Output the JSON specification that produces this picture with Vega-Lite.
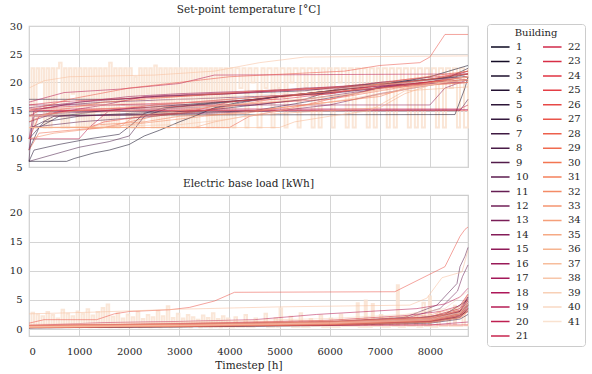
{
"$schema": "https://vega.github.io/schema/vega-lite/v6.json",
"padding": {"left": 8, "top": 3, "right": 2, "bottom": 2},
"background": "white",
"config": {
  "font": "DejaVu Serif",
  "view": {"stroke": "#cccccc", "strokeWidth": 1.2},
  "axis": {"grid": true, "gridColor": "#d4d4d4", "gridWidth": 1, "domain": false, "ticks": false, "labelFont": "DejaVu Serif", "labelFontSize": 10, "labelColor": "#262626", "labelPadding": 7, "titleFont": "DejaVu Serif", "titleFontSize": 10.5, "titleFontWeight": "normal", "titleColor": "#262626"},
  "title": {"font": "DejaVu Serif", "fontSize": 10.5, "fontWeight": "normal", "color": "#262626", "offset": 6},
  "legend": {"labelFont": "DejaVu Serif", "titleFont": "DejaVu Serif", "labelFontSize": 10, "titleFontSize": 10, "titleFontWeight": "normal", "labelColor": "#262626", "titleColor": "#262626", "symbolLimit": 50},
  "concat": {"spacing": 4}
},
"resolve": {"scale": {"y": "independent"}},
"data": {"values": [
{"p":"T","b":41,"t":0,"v":12},{"p":"T","b":41,"t":50,"v":22.5},{"p":"T","b":41,"t":100,"v":12},{"p":"T","b":41,"t":150,"v":22.5},{"p":"T","b":41,"t":200,"v":20},{"p":"T","b":41,"t":250,"v":22.5},{"p":"T","b":41,"t":300,"v":12},{"p":"T","b":41,"t":350,"v":22.5},{"p":"T","b":41,"t":400,"v":12},{"p":"T","b":41,"t":450,"v":22.5},{"p":"T","b":41,"t":500,"v":14},{"p":"T","b":41,"t":550,"v":22.5},{"p":"T","b":41,"t":600,"v":23.5},{"p":"T","b":41,"t":650,"v":12},{"p":"T","b":41,"t":700,"v":22.5},{"p":"T","b":41,"t":750,"v":12},{"p":"T","b":41,"t":800,"v":22.5},{"p":"T","b":41,"t":850,"v":18},{"p":"T","b":41,"t":900,"v":22.5},{"p":"T","b":41,"t":950,"v":12},{"p":"T","b":41,"t":1000,"v":22.5},{"p":"T","b":41,"t":1050,"v":12},{"p":"T","b":41,"t":1100,"v":22.5},{"p":"T","b":41,"t":1150,"v":12},{"p":"T","b":41,"t":1200,"v":22.5},{"p":"T","b":41,"t":1250,"v":12},{"p":"T","b":41,"t":1300,"v":22.5},{"p":"T","b":41,"t":1350,"v":15},{"p":"T","b":41,"t":1400,"v":22.5},{"p":"T","b":41,"t":1450,"v":12},{"p":"T","b":41,"t":1500,"v":22.5},{"p":"T","b":41,"t":1550,"v":12},{"p":"T","b":41,"t":1600,"v":23.5},{"p":"T","b":41,"t":1650,"v":12},{"p":"T","b":41,"t":1700,"v":22.5},{"p":"T","b":41,"t":1750,"v":12},{"p":"T","b":41,"t":1800,"v":22.5},{"p":"T","b":41,"t":1850,"v":16},{"p":"T","b":41,"t":1900,"v":22.5},{"p":"T","b":41,"t":1950,"v":12},{"p":"T","b":41,"t":2000,"v":22.5},{"p":"T","b":41,"t":2050,"v":12},{"p":"T","b":41,"t":2100,"v":21},{"p":"T","b":41,"t":2150,"v":12},{"p":"T","b":41,"t":2200,"v":22.5},{"p":"T","b":41,"t":2250,"v":12},{"p":"T","b":41,"t":2300,"v":22.5},{"p":"T","b":41,"t":2350,"v":18},{"p":"T","b":41,"t":2400,"v":22.5},{"p":"T","b":41,"t":2450,"v":12},{"p":"T","b":41,"t":2500,"v":23},{"p":"T","b":41,"t":2550,"v":12},{"p":"T","b":41,"t":2600,"v":22.5},{"p":"T","b":41,"t":2650,"v":12},{"p":"T","b":41,"t":2700,"v":22.5},{"p":"T","b":41,"t":2750,"v":12},{"p":"T","b":41,"t":2800,"v":22.5},{"p":"T","b":41,"t":2850,"v":14},{"p":"T","b":41,"t":2900,"v":22.5},{"p":"T","b":41,"t":2950,"v":12},{"p":"T","b":41,"t":3000,"v":22.5},{"p":"T","b":41,"t":3050,"v":12},{"p":"T","b":41,"t":3100,"v":22.5},{"p":"T","b":41,"t":3150,"v":12},{"p":"T","b":41,"t":3200,"v":22.5},{"p":"T","b":41,"t":3250,"v":12},{"p":"T","b":41,"t":3300,"v":22.5},{"p":"T","b":41,"t":3350,"v":12},{"p":"T","b":41,"t":3400,"v":22.5},{"p":"T","b":41,"t":3450,"v":16},{"p":"T","b":41,"t":3500,"v":22.5},{"p":"T","b":41,"t":3550,"v":12},{"p":"T","b":41,"t":3600,"v":22.5},{"p":"T","b":41,"t":3650,"v":12},{"p":"T","b":41,"t":3700,"v":22.5},{"p":"T","b":41,"t":3750,"v":12},{"p":"T","b":41,"t":3800,"v":22.5},{"p":"T","b":41,"t":3850,"v":12},{"p":"T","b":41,"t":3900,"v":22.5},{"p":"T","b":41,"t":3950,"v":12},{"p":"T","b":41,"t":4000,"v":22.5},
{"p":"T","b":41,"t":4060,"v":12},{"p":"T","b":41,"t":4120,"v":22.5},{"p":"T","b":41,"t":4200,"v":19},{"p":"T","b":41,"t":4260,"v":22.5},{"p":"T","b":41,"t":4320,"v":12},{"p":"T","b":41,"t":4380,"v":22.5},{"p":"T","b":41,"t":4440,"v":20},{"p":"T","b":41,"t":4500,"v":22.5},{"p":"T","b":41,"t":4560,"v":12},{"p":"T","b":41,"t":4640,"v":22.5},{"p":"T","b":41,"t":4700,"v":19},{"p":"T","b":41,"t":4760,"v":22.5},{"p":"T","b":41,"t":4840,"v":12},{"p":"T","b":41,"t":4900,"v":22.5},{"p":"T","b":41,"t":4960,"v":19},{"p":"T","b":41,"t":5020,"v":22.5},{"p":"T","b":41,"t":5100,"v":12},{"p":"T","b":41,"t":5160,"v":22.5},{"p":"T","b":41,"t":5220,"v":20},{"p":"T","b":41,"t":5280,"v":22.5},{"p":"T","b":41,"t":5360,"v":12},{"p":"T","b":41,"t":5420,"v":22.5},{"p":"T","b":41,"t":5500,"v":19},{"p":"T","b":41,"t":5560,"v":22.5},{"p":"T","b":41,"t":5640,"v":12},{"p":"T","b":41,"t":5700,"v":22.5},{"p":"T","b":41,"t":5780,"v":12},{"p":"T","b":41,"t":5840,"v":22.5},{"p":"T","b":41,"t":5900,"v":19},{"p":"T","b":41,"t":5960,"v":22.5},{"p":"T","b":41,"t":6040,"v":12},{"p":"T","b":41,"t":6100,"v":22.5},{"p":"T","b":41,"t":6180,"v":20},{"p":"T","b":41,"t":6240,"v":22.5},{"p":"T","b":41,"t":6320,"v":12},{"p":"T","b":41,"t":6380,"v":22.5},{"p":"T","b":41,"t":6460,"v":12},{"p":"T","b":41,"t":6520,"v":22.5},{"p":"T","b":41,"t":6600,"v":19},{"p":"T","b":41,"t":6660,"v":22.5},{"p":"T","b":41,"t":6740,"v":12},{"p":"T","b":41,"t":6800,"v":22.5},{"p":"T","b":41,"t":6880,"v":12},{"p":"T","b":41,"t":6940,"v":22.5},{"p":"T","b":41,"t":7000,"v":20},{"p":"T","b":41,"t":7060,"v":22.5},{"p":"T","b":41,"t":7140,"v":12},{"p":"T","b":41,"t":7200,"v":22.5},{"p":"T","b":41,"t":7280,"v":12},{"p":"T","b":41,"t":7340,"v":22.5},{"p":"T","b":41,"t":7420,"v":19},{"p":"T","b":41,"t":7480,"v":22.5},{"p":"T","b":41,"t":7560,"v":12},{"p":"T","b":41,"t":7620,"v":22.5},{"p":"T","b":41,"t":7700,"v":12},{"p":"T","b":41,"t":7760,"v":22.5},{"p":"T","b":41,"t":7840,"v":12},{"p":"T","b":41,"t":7900,"v":22.5},{"p":"T","b":41,"t":7980,"v":20},{"p":"T","b":41,"t":8040,"v":22.5},{"p":"T","b":41,"t":8120,"v":12},{"p":"T","b":41,"t":8180,"v":22.5},{"p":"T","b":41,"t":8260,"v":12},{"p":"T","b":41,"t":8320,"v":22.5},{"p":"T","b":41,"t":8400,"v":19},{"p":"T","b":41,"t":8460,"v":22.5},{"p":"T","b":41,"t":8540,"v":12},{"p":"T","b":41,"t":8600,"v":22.5},{"p":"T","b":41,"t":8680,"v":12},{"p":"T","b":41,"t":8760,"v":22.5},
{"p":"T","b":1,"t":0,"v":6},{"p":"T","b":1,"t":750,"v":6},{"p":"T","b":1,"t":900,"v":6.5},{"p":"T","b":1,"t":1300,"v":7.5},{"p":"T","b":1,"t":1600,"v":8},{"p":"T","b":1,"t":2000,"v":9},{"p":"T","b":1,"t":2300,"v":10.5},{"p":"T","b":1,"t":2600,"v":11.5},{"p":"T","b":1,"t":3000,"v":13},{"p":"T","b":1,"t":3300,"v":14},{"p":"T","b":1,"t":3700,"v":15.5},{"p":"T","b":1,"t":4200,"v":16.5},{"p":"T","b":1,"t":5000,"v":17.5},{"p":"T","b":1,"t":6000,"v":18.5},{"p":"T","b":1,"t":7000,"v":19.5},{"p":"T","b":1,"t":8000,"v":21},{"p":"T","b":1,"t":8760,"v":23},
{"p":"T","b":2,"t":0,"v":14.2},{"p":"T","b":2,"t":8500,"v":14.3},{"p":"T","b":2,"t":8700,"v":19},{"p":"T","b":2,"t":8760,"v":21},
{"p":"T","b":3,"t":0,"v":6},{"p":"T","b":3,"t":100,"v":8},{"p":"T","b":3,"t":600,"v":9},{"p":"T","b":3,"t":1200,"v":10},{"p":"T","b":3,"t":1800,"v":10.8},{"p":"T","b":3,"t":2050,"v":12.5},{"p":"T","b":3,"t":2300,"v":14.5},{"p":"T","b":3,"t":2700,"v":15.5},{"p":"T","b":3,"t":3500,"v":16.2},{"p":"T","b":3,"t":4500,"v":17},{"p":"T","b":3,"t":5500,"v":18},{"p":"T","b":3,"t":6500,"v":19},{"p":"T","b":3,"t":7500,"v":20},{"p":"T","b":3,"t":8400,"v":21},{"p":"T","b":3,"t":8760,"v":22.5},
{"p":"T","b":4,"t":0,"v":8},{"p":"T","b":4,"t":200,"v":12},{"p":"T","b":4,"t":600,"v":14},{"p":"T","b":4,"t":1500,"v":15},{"p":"T","b":4,"t":3000,"v":16},{"p":"T","b":4,"t":4500,"v":17},{"p":"T","b":4,"t":6000,"v":18.5},{"p":"T","b":4,"t":7000,"v":19.5},{"p":"T","b":4,"t":8000,"v":20.5},{"p":"T","b":4,"t":8760,"v":21.5},
{"p":"T","b":5,"t":0,"v":17},{"p":"T","b":5,"t":1800,"v":17},{"p":"T","b":5,"t":2500,"v":17.5},{"p":"T","b":5,"t":4000,"v":18},{"p":"T","b":5,"t":5500,"v":18.5},{"p":"T","b":5,"t":6500,"v":19.5},{"p":"T","b":5,"t":7500,"v":20},{"p":"T","b":5,"t":8760,"v":21},
{"p":"T","b":6,"t":0,"v":10},{"p":"T","b":6,"t":300,"v":13},{"p":"T","b":6,"t":1000,"v":14},{"p":"T","b":6,"t":2000,"v":14.5},{"p":"T","b":6,"t":3500,"v":15},{"p":"T","b":6,"t":4500,"v":16},{"p":"T","b":6,"t":5500,"v":17},{"p":"T","b":6,"t":6200,"v":19},{"p":"T","b":6,"t":7000,"v":20},{"p":"T","b":6,"t":8760,"v":21},
{"p":"T","b":7,"t":0,"v":6},{"p":"T","b":7,"t":50,"v":12},{"p":"T","b":7,"t":500,"v":14},{"p":"T","b":7,"t":3000,"v":14.5},{"p":"T","b":7,"t":4500,"v":15},{"p":"T","b":7,"t":5500,"v":16.5},{"p":"T","b":7,"t":6500,"v":18},{"p":"T","b":7,"t":7200,"v":19.5},{"p":"T","b":7,"t":8760,"v":20.5},
{"p":"T","b":8,"t":0,"v":6},{"p":"T","b":8,"t":400,"v":7},{"p":"T","b":8,"t":1000,"v":8.5},{"p":"T","b":8,"t":1600,"v":9.5},{"p":"T","b":8,"t":2000,"v":10.5},{"p":"T","b":8,"t":2300,"v":14},{"p":"T","b":8,"t":2800,"v":15.5},{"p":"T","b":8,"t":4000,"v":16.5},{"p":"T","b":8,"t":5000,"v":17.5},{"p":"T","b":8,"t":6000,"v":18.2},{"p":"T","b":8,"t":7000,"v":19},{"p":"T","b":8,"t":8000,"v":20},{"p":"T","b":8,"t":8760,"v":21.5},
{"p":"T","b":9,"t":0,"v":14.8},{"p":"T","b":9,"t":8600,"v":15},{"p":"T","b":9,"t":8760,"v":17},
{"p":"T","b":10,"t":0,"v":12},{"p":"T","b":10,"t":1000,"v":13},{"p":"T","b":10,"t":2500,"v":14},{"p":"T","b":10,"t":3500,"v":15},{"p":"T","b":10,"t":4300,"v":16.5},{"p":"T","b":10,"t":5000,"v":17.5},{"p":"T","b":10,"t":6000,"v":18.2},{"p":"T","b":10,"t":7500,"v":19.5},{"p":"T","b":10,"t":8760,"v":21},
{"p":"T","b":11,"t":0,"v":15},{"p":"T","b":11,"t":700,"v":16},{"p":"T","b":11,"t":1500,"v":16.5},{"p":"T","b":11,"t":3000,"v":17},{"p":"T","b":11,"t":4500,"v":17.5},{"p":"T","b":11,"t":6000,"v":18},{"p":"T","b":11,"t":7000,"v":19},{"p":"T","b":11,"t":8000,"v":20},{"p":"T","b":11,"t":8760,"v":22},
{"p":"T","b":12,"t":0,"v":13},{"p":"T","b":12,"t":500,"v":14.5},{"p":"T","b":12,"t":2000,"v":15},{"p":"T","b":12,"t":3000,"v":15.5},{"p":"T","b":12,"t":4500,"v":16},{"p":"T","b":12,"t":5500,"v":17},{"p":"T","b":12,"t":6700,"v":18.5},{"p":"T","b":12,"t":7300,"v":20},{"p":"T","b":12,"t":8760,"v":21},
{"p":"T","b":13,"t":0,"v":8},{"p":"T","b":13,"t":100,"v":14},{"p":"T","b":13,"t":2000,"v":14.2},{"p":"T","b":13,"t":3500,"v":14.5},{"p":"T","b":13,"t":5000,"v":15},{"p":"T","b":13,"t":6000,"v":16},{"p":"T","b":13,"t":7000,"v":18},{"p":"T","b":13,"t":8000,"v":19.5},{"p":"T","b":13,"t":8760,"v":20.5},
{"p":"T","b":14,"t":0,"v":15.5},{"p":"T","b":14,"t":1000,"v":16.5},{"p":"T","b":14,"t":2500,"v":17.5},{"p":"T","b":14,"t":4000,"v":18},{"p":"T","b":14,"t":5500,"v":19},{"p":"T","b":14,"t":7000,"v":19.5},{"p":"T","b":14,"t":8760,"v":20},
{"p":"T","b":15,"t":0,"v":16},{"p":"T","b":15,"t":8000,"v":16},{"p":"T","b":15,"t":8300,"v":19},{"p":"T","b":15,"t":8760,"v":20.5},
{"p":"T","b":16,"t":0,"v":10},{"p":"T","b":16,"t":100,"v":15},{"p":"T","b":16,"t":1000,"v":16.5},{"p":"T","b":16,"t":2000,"v":17.5},{"p":"T","b":16,"t":3000,"v":18},{"p":"T","b":16,"t":4500,"v":18.5},{"p":"T","b":16,"t":6000,"v":19},{"p":"T","b":16,"t":8760,"v":20},
{"p":"T","b":17,"t":0,"v":14},{"p":"T","b":17,"t":800,"v":15},{"p":"T","b":17,"t":1500,"v":16},{"p":"T","b":17,"t":2300,"v":17.5},{"p":"T","b":17,"t":3500,"v":18},{"p":"T","b":17,"t":5000,"v":18.5},{"p":"T","b":17,"t":6500,"v":19},{"p":"T","b":17,"t":7500,"v":19.5},{"p":"T","b":17,"t":8760,"v":21},
{"p":"T","b":18,"t":0,"v":15},{"p":"T","b":18,"t":8760,"v":15.2},
{"p":"T","b":19,"t":0,"v":16.5},{"p":"T","b":19,"t":700,"v":18.2},{"p":"T","b":19,"t":1800,"v":18.8},{"p":"T","b":19,"t":3000,"v":19.8},{"p":"T","b":19,"t":3700,"v":21.3},{"p":"T","b":19,"t":8760,"v":21.5},
{"p":"T","b":20,"t":0,"v":10},{"p":"T","b":20,"t":1000,"v":10},{"p":"T","b":20,"t":1200,"v":12},{"p":"T","b":20,"t":1600,"v":15},{"p":"T","b":20,"t":2500,"v":16},{"p":"T","b":20,"t":4000,"v":17},{"p":"T","b":20,"t":5500,"v":18},{"p":"T","b":20,"t":7000,"v":19},{"p":"T","b":20,"t":8760,"v":20},
{"p":"T","b":21,"t":0,"v":15.3},{"p":"T","b":21,"t":8600,"v":15.3},{"p":"T","b":21,"t":8760,"v":16},
{"p":"T","b":22,"t":0,"v":16},{"p":"T","b":22,"t":500,"v":16.5},{"p":"T","b":22,"t":1500,"v":17},{"p":"T","b":22,"t":3000,"v":17.5},{"p":"T","b":22,"t":5000,"v":18.5},{"p":"T","b":22,"t":6500,"v":19.5},{"p":"T","b":22,"t":7500,"v":20.5},{"p":"T","b":22,"t":8760,"v":21.5},
{"p":"T","b":23,"t":0,"v":14},{"p":"T","b":23,"t":300,"v":15.5},{"p":"T","b":23,"t":1500,"v":16},{"p":"T","b":23,"t":3500,"v":16.5},{"p":"T","b":23,"t":5000,"v":17},{"p":"T","b":23,"t":6000,"v":18},{"p":"T","b":23,"t":7000,"v":19.5},{"p":"T","b":23,"t":8760,"v":20.5},
{"p":"T","b":24,"t":0,"v":15},{"p":"T","b":24,"t":8760,"v":15},
{"p":"T","b":25,"t":0,"v":10},{"p":"T","b":25,"t":200,"v":14},{"p":"T","b":25,"t":800,"v":15},{"p":"T","b":25,"t":2000,"v":15.5},{"p":"T","b":25,"t":4000,"v":16},{"p":"T","b":25,"t":6000,"v":17},{"p":"T","b":25,"t":7000,"v":19},{"p":"T","b":25,"t":8760,"v":21},
{"p":"T","b":26,"t":0,"v":12},{"p":"T","b":26,"t":1200,"v":12},{"p":"T","b":26,"t":1500,"v":13},{"p":"T","b":26,"t":2300,"v":14},{"p":"T","b":26,"t":3300,"v":15},{"p":"T","b":26,"t":4000,"v":16.5},{"p":"T","b":26,"t":5000,"v":17.5},{"p":"T","b":26,"t":6000,"v":18},{"p":"T","b":26,"t":7000,"v":19.5},{"p":"T","b":26,"t":8000,"v":20.5},{"p":"T","b":26,"t":8760,"v":22},
{"p":"T","b":27,"t":0,"v":15},{"p":"T","b":27,"t":800,"v":17},{"p":"T","b":27,"t":2000,"v":19},{"p":"T","b":27,"t":4000,"v":21},{"p":"T","b":27,"t":6300,"v":22},{"p":"T","b":27,"t":7000,"v":23},{"p":"T","b":27,"t":7800,"v":23.5},{"p":"T","b":27,"t":8000,"v":24.5},{"p":"T","b":27,"t":8300,"v":28.5},{"p":"T","b":27,"t":8760,"v":28.5},
{"p":"T","b":28,"t":0,"v":12},{"p":"T","b":28,"t":4000,"v":12},{"p":"T","b":28,"t":4400,"v":14},{"p":"T","b":28,"t":5000,"v":15},{"p":"T","b":28,"t":6000,"v":17},{"p":"T","b":28,"t":7000,"v":18.5},{"p":"T","b":28,"t":8000,"v":20},{"p":"T","b":28,"t":8760,"v":21},
{"p":"T","b":29,"t":0,"v":8},{"p":"T","b":29,"t":200,"v":11},{"p":"T","b":29,"t":800,"v":11.5},{"p":"T","b":29,"t":1500,"v":12},{"p":"T","b":29,"t":2500,"v":14},{"p":"T","b":29,"t":3500,"v":15},{"p":"T","b":29,"t":4500,"v":16.5},{"p":"T","b":29,"t":5500,"v":18},{"p":"T","b":29,"t":6500,"v":19},{"p":"T","b":29,"t":7500,"v":20.5},{"p":"T","b":29,"t":8760,"v":22},
{"p":"T","b":30,"t":0,"v":13},{"p":"T","b":30,"t":500,"v":15},{"p":"T","b":30,"t":1500,"v":16.5},{"p":"T","b":30,"t":3000,"v":17.5},{"p":"T","b":30,"t":4500,"v":18.5},{"p":"T","b":30,"t":6000,"v":19},{"p":"T","b":30,"t":7500,"v":20},{"p":"T","b":30,"t":8760,"v":21.5},
{"p":"T","b":31,"t":0,"v":12},{"p":"T","b":31,"t":1200,"v":12},{"p":"T","b":31,"t":1400,"v":12.5},{"p":"T","b":31,"t":2300,"v":13},{"p":"T","b":31,"t":3000,"v":14},{"p":"T","b":31,"t":4300,"v":14.5},{"p":"T","b":31,"t":5000,"v":15.5},{"p":"T","b":31,"t":6000,"v":16.5},{"p":"T","b":31,"t":7000,"v":17.5},{"p":"T","b":31,"t":7500,"v":19},{"p":"T","b":31,"t":8760,"v":20.5},
{"p":"T","b":32,"t":0,"v":10},{"p":"T","b":32,"t":500,"v":11},{"p":"T","b":32,"t":1500,"v":12},{"p":"T","b":32,"t":2500,"v":13},{"p":"T","b":32,"t":3500,"v":14},{"p":"T","b":32,"t":4500,"v":15},{"p":"T","b":32,"t":5500,"v":16},{"p":"T","b":32,"t":6500,"v":17},{"p":"T","b":32,"t":7400,"v":18.5},{"p":"T","b":32,"t":8000,"v":20},{"p":"T","b":32,"t":8760,"v":21},
{"p":"T","b":33,"t":0,"v":12},{"p":"T","b":33,"t":1800,"v":12},{"p":"T","b":33,"t":2100,"v":14},{"p":"T","b":33,"t":3000,"v":15},{"p":"T","b":33,"t":4000,"v":16},{"p":"T","b":33,"t":5500,"v":17},{"p":"T","b":33,"t":6500,"v":18},{"p":"T","b":33,"t":7500,"v":19.5},{"p":"T","b":33,"t":8760,"v":20.5},
{"p":"T","b":34,"t":0,"v":14},{"p":"T","b":34,"t":1000,"v":15},{"p":"T","b":34,"t":2500,"v":16},{"p":"T","b":34,"t":4000,"v":17},{"p":"T","b":34,"t":5500,"v":18},{"p":"T","b":34,"t":7000,"v":19},{"p":"T","b":34,"t":8760,"v":20},
{"p":"T","b":35,"t":0,"v":12},{"p":"T","b":35,"t":3300,"v":12},{"p":"T","b":35,"t":3700,"v":13},{"p":"T","b":35,"t":4300,"v":14},{"p":"T","b":35,"t":5000,"v":14.5},{"p":"T","b":35,"t":6000,"v":15},{"p":"T","b":35,"t":7000,"v":15.5},{"p":"T","b":35,"t":7500,"v":18},{"p":"T","b":35,"t":8000,"v":19.5},{"p":"T","b":35,"t":8760,"v":20},
{"p":"T","b":36,"t":0,"v":12},{"p":"T","b":36,"t":5000,"v":12},{"p":"T","b":36,"t":5300,"v":13},{"p":"T","b":36,"t":6000,"v":14},{"p":"T","b":36,"t":6800,"v":15},{"p":"T","b":36,"t":7200,"v":17},{"p":"T","b":36,"t":7500,"v":18.5},{"p":"T","b":36,"t":8760,"v":19.2},
{"p":"T","b":37,"t":0,"v":19},{"p":"T","b":37,"t":300,"v":20.3},{"p":"T","b":37,"t":800,"v":21},{"p":"T","b":37,"t":2500,"v":21.3},{"p":"T","b":37,"t":3700,"v":22},{"p":"T","b":37,"t":4600,"v":23.5},{"p":"T","b":37,"t":5500,"v":24.5},{"p":"T","b":37,"t":8760,"v":24.7},
{"p":"T","b":38,"t":0,"v":12},{"p":"T","b":38,"t":3000,"v":12.5},{"p":"T","b":38,"t":4000,"v":13.5},{"p":"T","b":38,"t":5000,"v":15},{"p":"T","b":38,"t":6000,"v":16.5},{"p":"T","b":38,"t":7000,"v":18},{"p":"T","b":38,"t":8000,"v":19.5},{"p":"T","b":38,"t":8760,"v":21},
{"p":"T","b":39,"t":0,"v":14},{"p":"T","b":39,"t":2000,"v":15},{"p":"T","b":39,"t":4000,"v":16},{"p":"T","b":39,"t":6000,"v":17.5},{"p":"T","b":39,"t":7500,"v":19},{"p":"T","b":39,"t":8760,"v":20.5},
{"p":"T","b":40,"t":0,"v":15},{"p":"T","b":40,"t":1500,"v":16},{"p":"T","b":40,"t":3000,"v":17},{"p":"T","b":40,"t":5000,"v":18},{"p":"T","b":40,"t":7000,"v":19.5},{"p":"T","b":40,"t":8760,"v":21},
{"p":"E","b":41,"t":0,"v":0.3},{"p":"E","b":41,"t":50,"v":2.8},{"p":"E","b":41,"t":100,"v":0.4},{"p":"E","b":41,"t":150,"v":2.5},{"p":"E","b":41,"t":200,"v":0.3},{"p":"E","b":41,"t":250,"v":2.2},{"p":"E","b":41,"t":300,"v":0.5},{"p":"E","b":41,"t":350,"v":2.9},{"p":"E","b":41,"t":400,"v":0.3},{"p":"E","b":41,"t":450,"v":2.4},{"p":"E","b":41,"t":500,"v":0.4},{"p":"E","b":41,"t":550,"v":1.8},{"p":"E","b":41,"t":600,"v":0.3},{"p":"E","b":41,"t":650,"v":3.3},{"p":"E","b":41,"t":700,"v":0.4},{"p":"E","b":41,"t":750,"v":2.6},{"p":"E","b":41,"t":800,"v":0.3},{"p":"E","b":41,"t":850,"v":2.2},{"p":"E","b":41,"t":900,"v":0.5},{"p":"E","b":41,"t":950,"v":3.0},{"p":"E","b":41,"t":1000,"v":0.3},{"p":"E","b":41,"t":1050,"v":2.6},{"p":"E","b":41,"t":1100,"v":0.4},{"p":"E","b":41,"t":1150,"v":3.4},{"p":"E","b":41,"t":1200,"v":0.3},{"p":"E","b":41,"t":1250,"v":2.3},{"p":"E","b":41,"t":1300,"v":0.4},{"p":"E","b":41,"t":1350,"v":2.9},{"p":"E","b":41,"t":1400,"v":0.3},{"p":"E","b":41,"t":1450,"v":3.6},{"p":"E","b":41,"t":1500,"v":0.4},{"p":"E","b":41,"t":1550,"v":4.2},{"p":"E","b":41,"t":1600,"v":0.3},{"p":"E","b":41,"t":1650,"v":2.1},{"p":"E","b":41,"t":1700,"v":0.4},{"p":"E","b":41,"t":1750,"v":2.7},{"p":"E","b":41,"t":1800,"v":0.3},{"p":"E","b":41,"t":1850,"v":1.8},{"p":"E","b":41,"t":1900,"v":0.4},{"p":"E","b":41,"t":1950,"v":2.5},{"p":"E","b":41,"t":2000,"v":0.3},{"p":"E","b":41,"t":2050,"v":2.0},{"p":"E","b":41,"t":2100,"v":0.5},{"p":"E","b":41,"t":2150,"v":2.9},{"p":"E","b":41,"t":2200,"v":0.3},{"p":"E","b":41,"t":2250,"v":1.7},{"p":"E","b":41,"t":2300,"v":0.4},{"p":"E","b":41,"t":2350,"v":2.4},{"p":"E","b":41,"t":2400,"v":0.3},{"p":"E","b":41,"t":2450,"v":2.0},{"p":"E","b":41,"t":2500,"v":0.4},{"p":"E","b":41,"t":2550,"v":3.1},{"p":"E","b":41,"t":2600,"v":0.3},{"p":"E","b":41,"t":2650,"v":2.2},{"p":"E","b":41,"t":2700,"v":0.4},{"p":"E","b":41,"t":2750,"v":3.9},{"p":"E","b":41,"t":2800,"v":0.3},{"p":"E","b":41,"t":2850,"v":1.9},{"p":"E","b":41,"t":2900,"v":0.4},{"p":"E","b":41,"t":2950,"v":2.6},{"p":"E","b":41,"t":3000,"v":0.3},{"p":"E","b":41,"t":3050,"v":1.8},{"p":"E","b":41,"t":3100,"v":0.4},{"p":"E","b":41,"t":3150,"v":2.4},{"p":"E","b":41,"t":3200,"v":0.3},{"p":"E","b":41,"t":3250,"v":2.0},{"p":"E","b":41,"t":3300,"v":0.5},{"p":"E","b":41,"t":3350,"v":1.6},{"p":"E","b":41,"t":3400,"v":0.3},{"p":"E","b":41,"t":3450,"v":2.3},{"p":"E","b":41,"t":3500,"v":0.4},{"p":"E","b":41,"t":3550,"v":1.9},{"p":"E","b":41,"t":3600,"v":0.3},{"p":"E","b":41,"t":3650,"v":2.7},{"p":"E","b":41,"t":3700,"v":0.4},{"p":"E","b":41,"t":3750,"v":1.7},{"p":"E","b":41,"t":3800,"v":0.3},{"p":"E","b":41,"t":3850,"v":2.2},{"p":"E","b":41,"t":3900,"v":0.4},{"p":"E","b":41,"t":3950,"v":1.8},{"p":"E","b":41,"t":4000,"v":0.3},
{"p":"E","b":41,"t":4100,"v":2.0},{"p":"E","b":41,"t":4150,"v":0.4},{"p":"E","b":41,"t":4300,"v":2.4},{"p":"E","b":41,"t":4350,"v":0.4},{"p":"E","b":41,"t":4500,"v":1.8},{"p":"E","b":41,"t":4550,"v":0.5},{"p":"E","b":41,"t":4700,"v":2.6},{"p":"E","b":41,"t":4750,"v":0.4},{"p":"E","b":41,"t":4900,"v":1.9},{"p":"E","b":41,"t":4950,"v":0.4},{"p":"E","b":41,"t":5000,"v":3.5},{"p":"E","b":41,"t":5050,"v":0.5},{"p":"E","b":41,"t":5200,"v":2.1},{"p":"E","b":41,"t":5250,"v":0.4},{"p":"E","b":41,"t":5400,"v":2.7},{"p":"E","b":41,"t":5450,"v":0.4},{"p":"E","b":41,"t":5600,"v":1.7},{"p":"E","b":41,"t":5650,"v":0.5},{"p":"E","b":41,"t":5800,"v":2.3},{"p":"E","b":41,"t":5850,"v":0.4},{"p":"E","b":41,"t":6000,"v":1.8},{"p":"E","b":41,"t":6050,"v":0.4},{"p":"E","b":41,"t":6200,"v":2.5},{"p":"E","b":41,"t":6250,"v":0.5},{"p":"E","b":41,"t":6540,"v":4.4},{"p":"E","b":41,"t":6580,"v":0.4},{"p":"E","b":41,"t":6700,"v":4.9},{"p":"E","b":41,"t":6740,"v":0.4},{"p":"E","b":41,"t":6840,"v":4.3},{"p":"E","b":41,"t":6880,"v":0.5},{"p":"E","b":41,"t":7000,"v":2.4},{"p":"E","b":41,"t":7050,"v":0.4},{"p":"E","b":41,"t":7200,"v":2.0},{"p":"E","b":41,"t":7250,"v":0.5},{"p":"E","b":41,"t":7340,"v":7.5},{"p":"E","b":41,"t":7380,"v":0.4},{"p":"E","b":41,"t":7500,"v":2.2},{"p":"E","b":41,"t":7550,"v":0.5},{"p":"E","b":41,"t":7700,"v":2.6},{"p":"E","b":41,"t":7750,"v":0.4},{"p":"E","b":41,"t":7850,"v":4.5},{"p":"E","b":41,"t":7900,"v":0.5},{"p":"E","b":41,"t":7980,"v":5.6},{"p":"E","b":41,"t":8020,"v":0.4},{"p":"E","b":41,"t":8150,"v":3.0},{"p":"E","b":41,"t":8200,"v":0.5},{"p":"E","b":41,"t":8350,"v":2.8},{"p":"E","b":41,"t":8400,"v":0.5},{"p":"E","b":41,"t":8480,"v":4.0},{"p":"E","b":41,"t":8520,"v":0.5},{"p":"E","b":41,"t":8650,"v":3.2},{"p":"E","b":41,"t":8700,"v":0.6},{"p":"E","b":41,"t":8760,"v":1},
{"p":"E","b":1,"t":0,"v":0.2},{"p":"E","b":1,"t":3000,"v":0.4},{"p":"E","b":1,"t":6000,"v":0.7},{"p":"E","b":1,"t":8000,"v":1.2},{"p":"E","b":1,"t":8600,"v":2},{"p":"E","b":1,"t":8760,"v":3.5},
{"p":"E","b":2,"t":0,"v":0.3},{"p":"E","b":2,"t":3000,"v":0.5},{"p":"E","b":2,"t":6000,"v":0.8},{"p":"E","b":2,"t":8000,"v":1.4},{"p":"E","b":2,"t":8600,"v":2.4},{"p":"E","b":2,"t":8760,"v":4},
{"p":"E","b":3,"t":0,"v":0.25},{"p":"E","b":3,"t":3000,"v":0.45},{"p":"E","b":3,"t":6000,"v":0.75},{"p":"E","b":3,"t":8000,"v":1.3},{"p":"E","b":3,"t":8500,"v":2},{"p":"E","b":3,"t":8760,"v":3},
{"p":"E","b":4,"t":0,"v":0.4},{"p":"E","b":4,"t":3000,"v":0.7},{"p":"E","b":4,"t":6000,"v":1.1},{"p":"E","b":4,"t":7500,"v":1.6},{"p":"E","b":4,"t":8300,"v":2.5},{"p":"E","b":4,"t":8760,"v":5},
{"p":"E","b":5,"t":0,"v":0.3},{"p":"E","b":5,"t":3000,"v":0.55},{"p":"E","b":5,"t":6000,"v":0.9},{"p":"E","b":5,"t":8000,"v":1.5},{"p":"E","b":5,"t":8600,"v":2.6},{"p":"E","b":5,"t":8760,"v":4.5},
{"p":"E","b":6,"t":0,"v":0.2},{"p":"E","b":6,"t":3000,"v":0.35},{"p":"E","b":6,"t":6000,"v":0.6},{"p":"E","b":6,"t":8000,"v":1},{"p":"E","b":6,"t":8600,"v":1.7},{"p":"E","b":6,"t":8760,"v":2.5},
{"p":"E","b":7,"t":0,"v":0.35},{"p":"E","b":7,"t":3000,"v":0.6},{"p":"E","b":7,"t":6000,"v":1},{"p":"E","b":7,"t":8000,"v":1.7},{"p":"E","b":7,"t":8600,"v":3},{"p":"E","b":7,"t":8760,"v":5.5},
{"p":"E","b":8,"t":0,"v":0.3},{"p":"E","b":8,"t":3000,"v":0.5},{"p":"E","b":8,"t":6000,"v":0.85},{"p":"E","b":8,"t":8000,"v":1.4},{"p":"E","b":8,"t":8500,"v":2.5},{"p":"E","b":8,"t":8760,"v":4},
{"p":"E","b":9,"t":0,"v":0.45},{"p":"E","b":9,"t":3000,"v":0.7},{"p":"E","b":9,"t":6000,"v":1.1},{"p":"E","b":9,"t":8000,"v":1.8},{"p":"E","b":9,"t":8600,"v":3},{"p":"E","b":9,"t":8760,"v":4.8},
{"p":"E","b":10,"t":0,"v":0.4},{"p":"E","b":10,"t":3000,"v":0.7},{"p":"E","b":10,"t":6000,"v":1.2},{"p":"E","b":10,"t":7500,"v":2},{"p":"E","b":10,"t":8140,"v":4.1},{"p":"E","b":10,"t":8540,"v":7.8},{"p":"E","b":10,"t":8600,"v":10.7},{"p":"E","b":10,"t":8700,"v":12.5},{"p":"E","b":10,"t":8760,"v":14},
{"p":"E","b":11,"t":0,"v":0.3},{"p":"E","b":11,"t":3000,"v":0.55},{"p":"E","b":11,"t":6000,"v":0.95},{"p":"E","b":11,"t":8000,"v":1.6},{"p":"E","b":11,"t":8600,"v":2.8},{"p":"E","b":11,"t":8760,"v":4.2},
{"p":"E","b":12,"t":0,"v":0.3},{"p":"E","b":12,"t":3000,"v":0.6},{"p":"E","b":12,"t":6000,"v":1.0},{"p":"E","b":12,"t":7500,"v":1.8},{"p":"E","b":12,"t":8200,"v":3.5},{"p":"E","b":12,"t":8550,"v":6.5},{"p":"E","b":12,"t":8650,"v":9},{"p":"E","b":12,"t":8760,"v":11},
{"p":"E","b":13,"t":0,"v":0.5},{"p":"E","b":13,"t":3000,"v":0.8},{"p":"E","b":13,"t":6000,"v":1.2},{"p":"E","b":13,"t":8000,"v":2},{"p":"E","b":13,"t":8600,"v":3.2},{"p":"E","b":13,"t":8760,"v":5},
{"p":"E","b":14,"t":0,"v":0.25},{"p":"E","b":14,"t":3000,"v":0.45},{"p":"E","b":14,"t":6000,"v":0.8},{"p":"E","b":14,"t":8000,"v":1.3},{"p":"E","b":14,"t":8600,"v":2.2},{"p":"E","b":14,"t":8760,"v":3.5},
{"p":"E","b":15,"t":0,"v":0.4},{"p":"E","b":15,"t":3000,"v":0.65},{"p":"E","b":15,"t":6000,"v":1.05},{"p":"E","b":15,"t":8000,"v":1.7},{"p":"E","b":15,"t":8600,"v":2.9},{"p":"E","b":15,"t":8760,"v":4.5},
{"p":"E","b":16,"t":0,"v":0.6},{"p":"E","b":16,"t":3000,"v":0.9},{"p":"E","b":16,"t":6000,"v":1.3},{"p":"E","b":16,"t":8000,"v":2.1},{"p":"E","b":16,"t":8600,"v":3.5},{"p":"E","b":16,"t":8760,"v":5.5},
{"p":"E","b":17,"t":0,"v":0.35},{"p":"E","b":17,"t":3000,"v":0.6},{"p":"E","b":17,"t":6000,"v":0.95},{"p":"E","b":17,"t":8000,"v":1.5},{"p":"E","b":17,"t":8600,"v":2.5},{"p":"E","b":17,"t":8760,"v":3.8},
{"p":"E","b":18,"t":0,"v":0.45},{"p":"E","b":18,"t":4000,"v":0.55},{"p":"E","b":18,"t":8000,"v":0.7},{"p":"E","b":18,"t":8760,"v":1.2},
{"p":"E","b":19,"t":0,"v":0.6},{"p":"E","b":19,"t":1500,"v":1.1},{"p":"E","b":19,"t":3000,"v":1.3},{"p":"E","b":19,"t":4500,"v":1.6},{"p":"E","b":19,"t":5740,"v":2.5},{"p":"E","b":19,"t":7740,"v":3.5},{"p":"E","b":19,"t":8300,"v":4.3},{"p":"E","b":19,"t":8600,"v":5.5},{"p":"E","b":19,"t":8760,"v":7},
{"p":"E","b":20,"t":0,"v":0.5},{"p":"E","b":20,"t":2000,"v":0.8},{"p":"E","b":20,"t":4000,"v":1.1},{"p":"E","b":20,"t":6000,"v":1.5},{"p":"E","b":20,"t":7500,"v":2.3},{"p":"E","b":20,"t":8200,"v":3},{"p":"E","b":20,"t":8600,"v":4},{"p":"E","b":20,"t":8760,"v":6},
{"p":"E","b":21,"t":0,"v":0.3},{"p":"E","b":21,"t":3000,"v":0.5},{"p":"E","b":21,"t":6000,"v":0.8},{"p":"E","b":21,"t":8000,"v":1.3},{"p":"E","b":21,"t":8600,"v":2.1},{"p":"E","b":21,"t":8760,"v":3.2},
{"p":"E","b":22,"t":0,"v":0.4},{"p":"E","b":22,"t":3000,"v":0.7},{"p":"E","b":22,"t":6000,"v":1.1},{"p":"E","b":22,"t":8000,"v":1.8},{"p":"E","b":22,"t":8600,"v":3.1},{"p":"E","b":22,"t":8760,"v":5.2},
{"p":"E","b":23,"t":0,"v":0.35},{"p":"E","b":23,"t":3000,"v":0.6},{"p":"E","b":23,"t":6000,"v":1.0},{"p":"E","b":23,"t":8000,"v":1.6},{"p":"E","b":23,"t":8600,"v":2.6},{"p":"E","b":23,"t":8760,"v":4},
{"p":"E","b":24,"t":0,"v":0.7},{"p":"E","b":24,"t":8760,"v":0.7},
{"p":"E","b":25,"t":0,"v":0.3},{"p":"E","b":25,"t":3000,"v":0.55},{"p":"E","b":25,"t":6000,"v":0.9},{"p":"E","b":25,"t":8000,"v":1.4},{"p":"E","b":25,"t":8600,"v":2.4},{"p":"E","b":25,"t":8760,"v":3.6},
{"p":"E","b":26,"t":0,"v":0.45},{"p":"E","b":26,"t":3000,"v":0.75},{"p":"E","b":26,"t":6000,"v":1.15},{"p":"E","b":26,"t":8000,"v":1.9},{"p":"E","b":26,"t":8600,"v":3.2},{"p":"E","b":26,"t":8760,"v":4.8},
{"p":"E","b":27,"t":0,"v":1},{"p":"E","b":27,"t":300,"v":1.6},{"p":"E","b":27,"t":1350,"v":1.6},{"p":"E","b":27,"t":1700,"v":2.6},{"p":"E","b":27,"t":2000,"v":3},{"p":"E","b":27,"t":2800,"v":3.3},{"p":"E","b":27,"t":3200,"v":3.7},{"p":"E","b":27,"t":3700,"v":4.8},{"p":"E","b":27,"t":4100,"v":6.3},{"p":"E","b":27,"t":7300,"v":6.4},{"p":"E","b":27,"t":8300,"v":10.7},{"p":"E","b":27,"t":8600,"v":15.9},{"p":"E","b":27,"t":8700,"v":17.1},{"p":"E","b":27,"t":8760,"v":17.5},
{"p":"E","b":28,"t":0,"v":0.2},{"p":"E","b":28,"t":3000,"v":0.4},{"p":"E","b":28,"t":6000,"v":0.7},{"p":"E","b":28,"t":8000,"v":1.1},{"p":"E","b":28,"t":8600,"v":1.9},{"p":"E","b":28,"t":8760,"v":3},
{"p":"E","b":29,"t":0,"v":0.35},{"p":"E","b":29,"t":3000,"v":0.6},{"p":"E","b":29,"t":6000,"v":0.95},{"p":"E","b":29,"t":8000,"v":1.5},{"p":"E","b":29,"t":8600,"v":2.6},{"p":"E","b":29,"t":8760,"v":4.2},
{"p":"E","b":30,"t":0,"v":0.5},{"p":"E","b":30,"t":3000,"v":0.85},{"p":"E","b":30,"t":6000,"v":1.3},{"p":"E","b":30,"t":8000,"v":2.1},{"p":"E","b":30,"t":8600,"v":3.5},{"p":"E","b":30,"t":8760,"v":5.8},
{"p":"E","b":31,"t":0,"v":0.3},{"p":"E","b":31,"t":3000,"v":0.5},{"p":"E","b":31,"t":6000,"v":0.85},{"p":"E","b":31,"t":8000,"v":1.4},{"p":"E","b":31,"t":8600,"v":2.3},{"p":"E","b":31,"t":8760,"v":3.5},
{"p":"E","b":32,"t":0,"v":0.4},{"p":"E","b":32,"t":3000,"v":0.7},{"p":"E","b":32,"t":6000,"v":1.1},{"p":"E","b":32,"t":8000,"v":1.8},{"p":"E","b":32,"t":8600,"v":2.9},{"p":"E","b":32,"t":8760,"v":4.5},
{"p":"E","b":33,"t":0,"v":0.25},{"p":"E","b":33,"t":3000,"v":0.45},{"p":"E","b":33,"t":6000,"v":0.75},{"p":"E","b":33,"t":8000,"v":1.2},{"p":"E","b":33,"t":8600,"v":2},{"p":"E","b":33,"t":8760,"v":3.2},
{"p":"E","b":34,"t":0,"v":0.6},{"p":"E","b":34,"t":3000,"v":1.0},{"p":"E","b":34,"t":6000,"v":1.5},{"p":"E","b":34,"t":8000,"v":2.4},{"p":"E","b":34,"t":8600,"v":3.8},{"p":"E","b":34,"t":8760,"v":6},
{"p":"E","b":35,"t":0,"v":0.35},{"p":"E","b":35,"t":3000,"v":0.6},{"p":"E","b":35,"t":6000,"v":1.0},{"p":"E","b":35,"t":8000,"v":1.6},{"p":"E","b":35,"t":8600,"v":2.7},{"p":"E","b":35,"t":8760,"v":4.3},
{"p":"E","b":36,"t":0,"v":0.5},{"p":"E","b":36,"t":3000,"v":0.8},{"p":"E","b":36,"t":6000,"v":1.2},{"p":"E","b":36,"t":8000,"v":1.9},{"p":"E","b":36,"t":8600,"v":3.2},{"p":"E","b":36,"t":8760,"v":5},
{"p":"E","b":37,"t":0,"v":2.6},{"p":"E","b":37,"t":1300,"v":2.9},{"p":"E","b":37,"t":3000,"v":3.4},{"p":"E","b":37,"t":5000,"v":3.8},{"p":"E","b":37,"t":7600,"v":4.1},{"p":"E","b":37,"t":7940,"v":5.3},{"p":"E","b":37,"t":8240,"v":8.8},{"p":"E","b":37,"t":8640,"v":9.8},{"p":"E","b":37,"t":8760,"v":13.5},
{"p":"E","b":38,"t":0,"v":0.3},{"p":"E","b":38,"t":3000,"v":0.55},{"p":"E","b":38,"t":6000,"v":0.9},{"p":"E","b":38,"t":8000,"v":1.5},{"p":"E","b":38,"t":8600,"v":2.5},{"p":"E","b":38,"t":8760,"v":4},
{"p":"E","b":39,"t":0,"v":0.8},{"p":"E","b":39,"t":3000,"v":1.2},{"p":"E","b":39,"t":6000,"v":1.8},{"p":"E","b":39,"t":7500,"v":2.5},{"p":"E","b":39,"t":8300,"v":3.5},{"p":"E","b":39,"t":8760,"v":6.5},
{"p":"E","b":40,"t":0,"v":0.4},{"p":"E","b":40,"t":3000,"v":0.65},{"p":"E","b":40,"t":6000,"v":1.05},{"p":"E","b":40,"t":8000,"v":1.7},{"p":"E","b":40,"t":8600,"v":2.8},{"p":"E","b":40,"t":8760,"v":4.6}
]},
"vconcat": [
{
 "title": "Set-point temperature [°C]",
 "width": 439, "height": 141,
 "transform": [{"filter": "datum.p == 'T'"}],
 "encoding": {
  "x": {"field": "t", "type": "quantitative", "scale": {"domain": [0, 8760], "nice": false, "zero": false}, "axis": {"values": [0,1000,2000,3000,4000,5000,6000,7000,8000], "labels": false, "title": null}},
  "y": {"field": "v", "type": "quantitative", "scale": {"domain": [5, 30], "nice": false, "zero": false}, "axis": {"values": [5,10,15,20,25,30], "title": null, "labelFont": "DejaVu Serif"}},
  "color": {"field": "b", "type": "nominal", "title": "Building",
   "scale": {"domain": [1,2,3,4,5,6,7,8,9,10,11,12,13,14,15,16,17,18,19,20,21,22,23,24,25,26,27,28,29,30,31,32,33,34,35,36,37,38,39,40,41],
    "range": ["#0b0820","#140c26","#1c0f2c","#241232","#2d1638","#35193e","#3f1a42","#491b46","#531c4b","#5c1d4f","#661e53","#701f57","#7a1e57","#841c58","#8f1b58","#991a58","#a31859","#ad1759","#b61c55","#be2051","#c7254e","#d02a4a","#d82e46","#e13342","#e43e45","#e74947","#ea554a","#ed604c","#f06b4f","#f37651","#f4805b","#f48b66","#f59570","#f59f7a","#f6aa85","#f6b48f","#f7bd9c","#f7c6a9","#f8d0b6","#f9d9c3","#f9e2d0"]},
   "legend": {"orient": "none", "legendX": 458, "legendY": -2, "columns": 2, "symbolType": "M-1.7,0H1.7", "symbolSize": 169, "symbolStrokeWidth": 1.5, "labelOffset": 10, "columnPadding": 14, "rowPadding": 2.45, "clipHeight": 12, "titleAnchor": "middle", "titlePadding": 3, "strokeColor": "#cccccc", "fillColor": "white", "padding": 4, "cornerRadius": 3, "symbolOpacity": 1, "symbolLimit": 50, "labelFont": "DejaVu Serif", "titleFont": "DejaVu Serif"}}
 },
 "layer": [
  {"transform": [{"filter": "datum.b == 41"}], "mark": {"type": "line", "interpolate": "step-after", "strokeWidth": 2, "opacity": 0.85}},
  {"transform": [{"filter": "datum.b != 41"}], "mark": {"type": "line", "strokeWidth": 0.9, "opacity": 0.6}}
 ]
},
{
 "title": "Electric base load [kWh]",
 "width": 439, "height": 141,
 "transform": [{"filter": "datum.p == 'E'"}],
 "encoding": {
  "x": {"field": "t", "type": "quantitative", "scale": {"domain": [0, 8760], "nice": false, "zero": false}, "axis": {"values": [0,1000,2000,3000,4000,5000,6000,7000,8000], "format": "d", "title": "Timestep [h]", "titlePadding": 4, "labelPadding": 10, "labelFont": "DejaVu Serif"}},
  "y": {"field": "v", "type": "quantitative", "scale": {"domain": [-1.2, 23], "nice": false, "zero": false}, "axis": {"values": [0,5,10,15,20], "title": null, "labelFont": "DejaVu Serif"}},
  "color": {"field": "b", "type": "nominal", "title": "Building",
   "scale": {"domain": [1,2,3,4,5,6,7,8,9,10,11,12,13,14,15,16,17,18,19,20,21,22,23,24,25,26,27,28,29,30,31,32,33,34,35,36,37,38,39,40,41],
    "range": ["#0b0820","#140c26","#1c0f2c","#241232","#2d1638","#35193e","#3f1a42","#491b46","#531c4b","#5c1d4f","#661e53","#701f57","#7a1e57","#841c58","#8f1b58","#991a58","#a31859","#ad1759","#b61c55","#be2051","#c7254e","#d02a4a","#d82e46","#e13342","#e43e45","#e74947","#ea554a","#ed604c","#f06b4f","#f37651","#f4805b","#f48b66","#f59570","#f59f7a","#f6aa85","#f6b48f","#f7bd9c","#f7c6a9","#f8d0b6","#f9d9c3","#f9e2d0"]},
   "legend": {"orient": "none", "legendX": 458, "legendY": -2, "columns": 2, "symbolType": "M-1.7,0H1.7", "symbolSize": 169, "symbolStrokeWidth": 1.5, "labelOffset": 10, "columnPadding": 14, "rowPadding": 2.45, "clipHeight": 12, "titleAnchor": "middle", "titlePadding": 3, "strokeColor": "#cccccc", "fillColor": "white", "padding": 4, "cornerRadius": 3, "symbolOpacity": 1, "symbolLimit": 50, "labelFont": "DejaVu Serif", "titleFont": "DejaVu Serif"}}
 },
 "layer": [
  {"transform": [{"filter": "datum.b == 41"}], "mark": {"type": "line", "interpolate": "step-after", "strokeWidth": 2, "opacity": 0.85}},
  {"transform": [{"filter": "datum.b != 41"}], "mark": {"type": "line", "strokeWidth": 0.9, "opacity": 0.6}}
 ]
}
]
}
